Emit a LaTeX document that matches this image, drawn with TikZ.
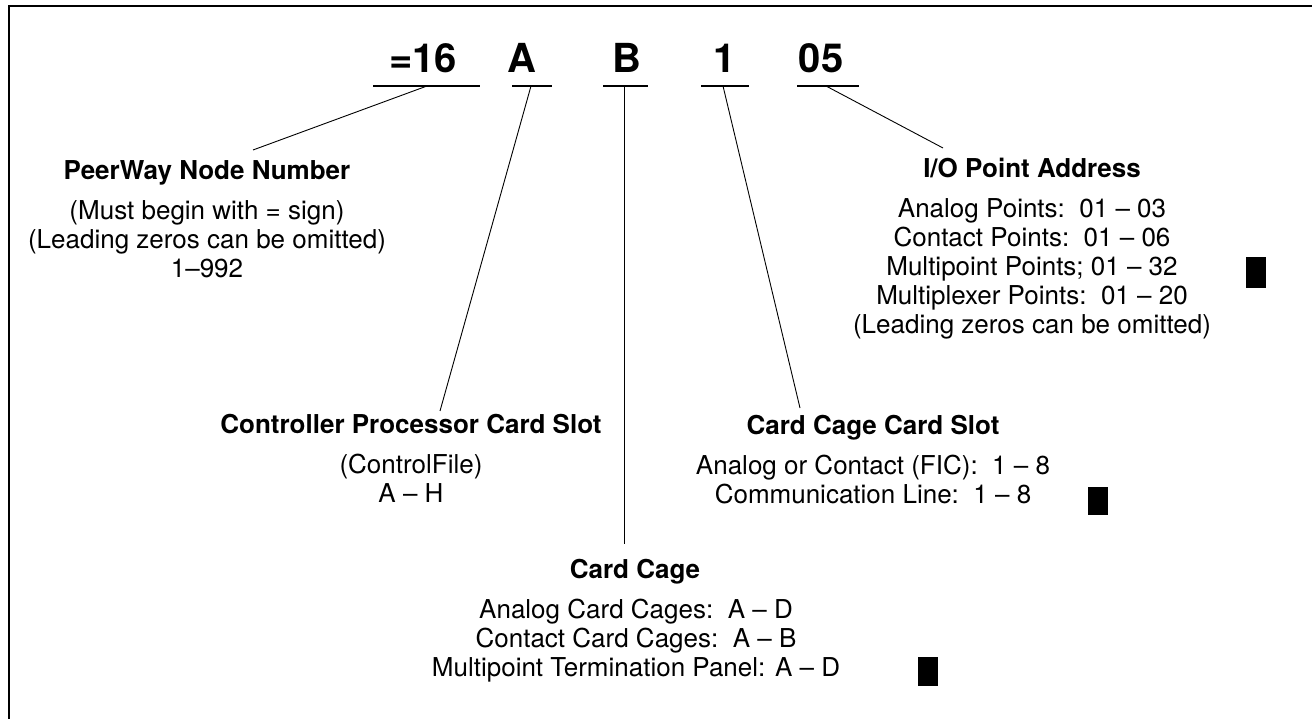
\documentclass[tikz,border=0pt]{standalone}
\usepackage{fontspec}
\setmainfont{TeX Gyre Heros}
\begin{document}
\begin{tikzpicture}[x=1pt,y=-1pt,
  code/.style={font=\fontsize{40}{40}\selectfont\bfseries, anchor=base, inner sep=0pt},
  ttl/.style={font=\fontsize{26}{29}\selectfont\bfseries, anchor=base, inner sep=0pt},
  txt/.style={font=\fontsize{26}{29}\selectfont, anchor=base, inner sep=0pt},
  uline/.style={line width=1.1pt},
  leader/.style={line width=0.9pt},
  blk/.style={fill=black, draw=none}]
\useasboundingbox (0,0) rectangle (1312,719);
\draw[line width=2pt] (9,719) -- (9,6) -- (1312,6);

% code characters
\node[code] (c16) at (423,73) {=16};
\node[code] (cA)  at (522,73) {A};
\node[code] (cB)  at (627,73) {B};
\node[code] (c1)  at (725,73) {1};
\node[code] (c05) at (821,73) {05};

% underlines
\coordinate (u16l) at (373,86); \coordinate (u16r) at (480,86);
\coordinate (uAl) at (512,86);  \coordinate (uAr) at (552,86);
\coordinate (uBl) at (603,86);  \coordinate (uBr) at (648,86);
\coordinate (u1l) at (701,86);  \coordinate (u1r) at (749,86);
\coordinate (u05l) at (797,86); \coordinate (u05r) at (859,86);
\draw[uline] (u16l) -- (u16r);
\draw[uline] (uAl) -- (uAr);
\draw[uline] (uBl) -- (uBr);
\draw[uline] (u1l) -- (u1r);
\draw[uline] (u05l) -- (u05r);

% leader start and end points
\coordinate (s16) at (427,86); \coordinate (e16) at (253,150);
\coordinate (sA) at (531,86);  \coordinate (eA) at (440,411);
\coordinate (sB) at (624,86);  \coordinate (eB) at (624,544);
\coordinate (s1) at (723,86);  \coordinate (e1) at (800,408);
\coordinate (s05) at (826,86); \coordinate (e05) at (943,148);
\draw[leader] (s16) -- (e16);
\draw[leader] (sA) -- (eA);
\draw[leader] (sB) -- (eB);
\draw[leader] (s1) -- (e1);
\draw[leader] (s05) -- (e05);

% PeerWay Node Number
\node[ttl] (pwT) at (207,180) {PeerWay Node Number};
\node[txt] (pw1) at (207,220) {(Must begin with = sign)};
\node[txt] (pw2) at (207,249) {(Leading zeros can be omitted)};
\node[txt] (pw3) at (207,278) {1–992};

% I/O Point Address
\node[ttl] (ioT) at (1032,178) {I/O Point Address};
\node[txt] (io1) at (1032,218) {Analog Points:\ \ 01 – 03};
\node[txt] (io2) at (1032,247) {Contact Points:\ \ 01 – 06};
\node[txt] (io3) at (1032,276) {Multipoint Points; 01 – 32};
\node[txt] (io4) at (1032,305) {Multiplexer Points:\ \ 01 – 20};
\node[txt] (io5) at (1032,334) {(Leading zeros can be omitted)};
\fill[blk] (1246,257) rectangle (1266,288);

% Controller Processor Card Slot
\node[ttl] (cpT) at (411,433) {Controller Processor Card Slot};
\node[txt] (cp1) at (411,473) {(ControlFile)};
\node[txt] (cp2) at (411,502) {A – H};

% Card Cage Card Slot
\node[ttl] (ccT) at (873,434) {Card Cage Card Slot};
\node[txt] (cc1) at (873,474) {Analog or Contact (FIC):\ \ 1 – 8};
\node[txt] (cc2) at (873,503) {Communication Line:\ \ 1 – 8};
\fill[blk] (1088,487) rectangle (1108,515);

% Card Cage
\node[ttl] (cgT) at (635,578) {Card Cage};
\node[txt] (cg1) at (636,618) {Analog Card Cages:\ \ A – D};
\node[txt] (cg2) at (636,647) {Contact Card Cages:\ \ A – B};
\node[txt] (cg3) at (636,676) {Multipoint Termination Panel: A – D};
\fill[blk] (918,657) rectangle (938,686);
\end{tikzpicture}
\end{document}
